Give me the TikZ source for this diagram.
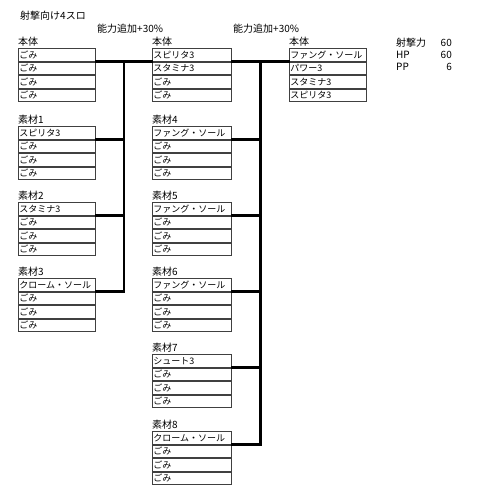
\documentclass[tikz,border=0pt]{standalone}
\usepackage{fontspec}
\newfontfamily\jp{Noto Sans CJK JP}
\definecolor{boxgray}{HTML}{404040}
\tikzset{
  cell/.style={draw=boxgray, line width=0.8pt, minimum width=#1, minimum height=12.75pt, inner xsep=1pt, inner ysep=0pt, text width=#1-2pt, align=left, anchor=north west, font=\jp\fontsize{9}{9}\selectfont},
  cell/.default=77pt,
  lbl/.style={anchor=south west, inner sep=0pt, font=\jp\fontsize{10}{10}\selectfont},
  txt/.style={inner sep=0pt, font=\jp\fontsize{10}{10}\selectfont},
  conn/.style={line width=2.6pt, line cap=rect}
}
% #1 name, #2 x, #3 y, #4 width, #5 label, #6-#9 rows
\newcommand\slotbox[9]{%
  \node[cell=#4] (#1r1) at (#2,#3) {#6};
  \node[cell=#4] (#1r2) at (#1r1.south west) {#7};
  \node[cell=#4] (#1r3) at (#1r2.south west) {#8};
  \node[cell=#4] (#1r4) at (#1r3.south west) {#9};
  \node[lbl] (#1lab) at ([yshift=1.5pt]#1r1.north west) {#5};
}
\begin{document}
\begin{tikzpicture}[x=1pt,y=-1pt]
\useasboundingbox (0,0) rectangle (480,490);
\node[txt, anchor=west] (title) at (20,16) {射撃向け4スロ};
\node[txt, anchor=west] (add1) at (97,29) {能力追加+30\%};
\node[txt, anchor=west] (add2) at (233,29) {能力追加+30\%};
% column A
\slotbox{a0}{18}{48}{77pt}{本体}{ごみ}{ごみ}{ごみ}{ごみ}
\slotbox{a1}{18}{126}{77pt}{素材1}{スピリタ3}{ごみ}{ごみ}{ごみ}
\slotbox{a2}{18}{202}{77pt}{素材2}{スタミナ3}{ごみ}{ごみ}{ごみ}
\slotbox{a3}{18}{278}{77pt}{素材3}{クローム・ソール}{ごみ}{ごみ}{ごみ}
% column B
\slotbox{b0}{152}{48}{79pt}{本体}{スピリタ3}{スタミナ3}{ごみ}{ごみ}
\slotbox{b1}{152}{126}{79pt}{素材4}{ファング・ソール}{ごみ}{ごみ}{ごみ}
\slotbox{b2}{152}{202}{79pt}{素材5}{ファング・ソール}{ごみ}{ごみ}{ごみ}
\slotbox{b3}{152}{278}{79pt}{素材6}{ファング・ソール}{ごみ}{ごみ}{ごみ}
\slotbox{b4}{152}{354}{79pt}{素材7}{シュート3}{ごみ}{ごみ}{ごみ}
\slotbox{b5}{152}{431}{79pt}{素材8}{クローム・ソール}{ごみ}{ごみ}{ごみ}
% column C
\slotbox{c0}{289}{48}{77pt}{本体}{ファング・ソール}{パワー3}{スタミナ3}{スピリタ3}
% stats
\node[txt, anchor=west] (s1) at (396,43) {射撃力};
\node[txt, anchor=east] (v1) at (452,43) {60};
\node[txt, anchor=west] (s2) at (396,55) {HP};
\node[txt, anchor=east] (v2) at (452,55) {60};
\node[txt, anchor=west] (s3) at (396,67) {PP};
\node[txt, anchor=east] (v3) at (452,67) {6};
% connectors
\coordinate (jA) at (124,0);
\coordinate (jB) at (260.5,0);
\draw[conn] (a0r1.south east) -- (b0r1.south west);
\draw[conn] (jA |- a0r1.south) -- (jA |- a3r1.south);
\draw[conn] (a1r1.south east) -- (a1r1.south east -| jA);
\draw[conn] (a2r1.south east) -- (a2r1.south east -| jA);
\draw[conn] (a3r1.south east) -- (a3r1.south east -| jA);
\draw[conn] (b0r1.south east) -- (c0r1.south west);
\draw[conn] (jB |- b0r1.south) -- (jB |- b5r1.south);
\draw[conn] (b1r1.south east) -- (b1r1.south east -| jB);
\draw[conn] (b2r1.south east) -- (b2r1.south east -| jB);
\draw[conn] (b3r1.south east) -- (b3r1.south east -| jB);
\draw[conn] (b4r1.south east) -- (b4r1.south east -| jB);
\draw[conn] (b5r1.south east) -- (b5r1.south east -| jB);
\end{tikzpicture}
\end{document}
